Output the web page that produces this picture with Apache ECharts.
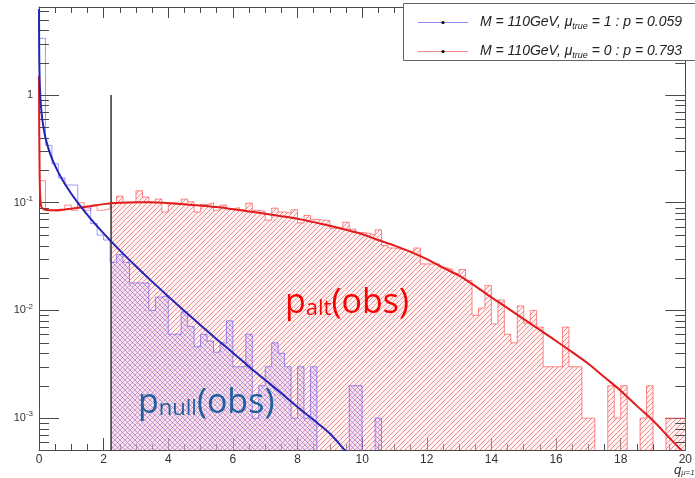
<!DOCTYPE html>
<html><head><meta charset="utf-8">
<script src="https://cdn.jsdelivr.net/npm/echarts@6/dist/echarts.min.js"></script>
<style>html,body{margin:0;padding:0;background:#fff}#c{width:695px;height:478px}</style>
</head><body><div id="c"></div>
<script>
// ---- data ----
const binLow = 0, binWidth = 0.2;       // 100 bins from 0 to 20
const redHist = [
 0.16,0.085,0.083,0.086,0.095,0.085,0.1,0.085,0.095,0.085,
 0.088,0.1,0.115,0.1,0.1,0.129,0.113,0.1,0.108,0.082,
 0.1,0.098,0.108,0.102,0.082,0.096,0.1,0.085,0.095,0.088,
 0.09,0.086,0.099,0.085,0.083,0.069,0.089,0.082,0.08,0.086,
 0.065,0.076,0.07,0.069,0.068,0.058,0.057,0.066,0.057,0.053,
 0.052,0.05,0.056,0.04,0.038,0.037,0.036,0.035,0.038,0.027,
 0.027,0.027,0.025,0.024,0.022,0.024,0.019,0.009,0.0105,0.017,
 0.0075,0.0125,0.006,0.005,0.011,0.0076,0.01,0.007,0.003,0.003,
 0.003,0.007,0.003,0.003,0.001,0.001,0,0,0.002,0.001,
 0.002,0,0,0.001,0.002,0,0,0.001,0.001,0.001
];
const blueHist = [
 3.36,0.34,0.23,0.17,0.146,0.146,0.09,0.089,0.064,0.05,
 0.045,0.028,0.033,0.028,0.018,0.018,0.018,0.01,0.0133,0.0137,
 0.006,0.006,0.0097,0.0071,0.0046,0.006,0.0052,0.0041,0.005,0.008,
 0.003,0.003,0.006,0.001,0.002,0.003,0.005,0.004,0.003,0.001,
 0.003,0.001,0.003,0,0,0,0,0,0.002,0.002,
 0,0,0.001,0,0,0,0,0,0,0,
 0,0,0,0,0,0,0,0,0,0,
 0,0,0,0,0,0,0,0,0,0,
 0,0,0,0,0,0,0,0,0,0,
 0,0,0,0,0,0,0,0,0,0
];
const blueCurveQ = [0.001,0.003,0.01,0.03,0.06,0.1,0.15,0.2,0.3,0.4,0.5,0.7,1.0,1.3,1.6,2.0,2.5,3.0,3.5,4.0,4.5,5.0,5.5,6.0,6.5,7.0,7.5,8.0,8.5,9.0,9.5,9.7];
const blueCurveV = [6.3,3.64,1.99,1.13,0.79,0.60,0.478,0.40,0.313,0.258,0.22,0.168,0.121,0.0913,0.0708,0.0519,0.0361,0.0257,0.0185,0.0135,0.0099,0.0073,0.0054,0.00405,0.003,0.00226,0.0017,0.00127,0.00096,0.00072,0.00049,0.00042];
const redCurveQ = [0,0.005,0.015,0.03,0.06,0.1,0.2,0.4,0.7,1.0,1.5,2.0,2.5,3.0,3.5,4.0,4.5,5.0,5.5,6.0,6.5,7.0,7.5,8.0,8.5,9.0,9.5,10.0,10.5,11.0,11.5,12.0,12.5,13.0,13.5,14.0,14.5,15.0,15.5,16.0,16.5,17.0,17.5,18.0,18.5,19.0,19.5,20.0];
const redCurveV = [1.5,0.6,0.25,0.13,0.095,0.089,0.086,0.085,0.086,0.088,0.092,0.097,0.1,0.101,0.101,0.099,0.097,0.094,0.091,0.087,0.083,0.079,0.075,0.071,0.066,0.061,0.056,0.051,0.045,0.040,0.035,0.030,0.025,0.021,0.0168,0.0132,0.0105,0.0083,0.0066,0.0052,0.0041,0.0032,0.0024,0.0018,0.0013,0.00095,0.00066,0.00046];
const qObs = 2.23;
const qObsTop = 1;
const legendLabels = [
  ['M = 110GeV, \u03bc', 'true', ' = 1 : p = 0.059'],
  ['M = 110GeV, \u03bc', 'true', ' = 0 : p = 0.793']
];
const logMinorTicks = [6e-4,7e-4,8e-4,9e-4,2e-3,3e-3,4e-3,5e-3,6e-3,7e-3,8e-3,9e-3,
  0.02,0.03,0.04,0.05,0.06,0.07,0.08,0.09,0.2,0.3,0.4,0.5,0.6,0.7,0.8,0.9,2,3,4,5,6];

// ---- helpers ----
const FLOOR = 1e-6;
function stepData(vals, startQ) {
  const out = [];
  for (let i = 0; i < vals.length; i++) {
    const lo = +(binLow + i * binWidth).toFixed(4), hi = +(lo + binWidth).toFixed(4);
    if (hi <= startQ) continue;
    out.push([Math.max(lo, startQ), vals[i] > 0 ? vals[i] : FLOOR]);
  }
  const last = vals[vals.length - 1];
  out.push([+(binLow + vals.length * binWidth).toFixed(4), last > 0 ? last : FLOOR]);
  return out;
}
function hatch(color, dir, s, bg) {
  const c = document.createElement('canvas');
  c.width = s; c.height = s;
  const g = c.getContext('2d');
  if (bg) { g.fillStyle = bg; g.fillRect(0, 0, s, s); }
  g.strokeStyle = color; g.lineWidth = 1;
  g.beginPath();
  if (dir > 0) {
    g.moveTo(0, s); g.lineTo(s, 0);
    g.moveTo(-1, 1); g.lineTo(1, -1);
    g.moveTo(s - 1, s + 1); g.lineTo(s + 1, s - 1);
  } else {
    g.moveTo(0, 0); g.lineTo(s, s);
    g.moveTo(-1, s - 1); g.lineTo(1, s + 1);
    g.moveTo(s - 1, -1); g.lineTo(s + 1, 1);
  }
  g.stroke();
  return c;
}
const redTile = hatch('rgba(235,95,95,0.7)', 1, 5, 'rgba(255,225,225,0.4)');
const blueTile = hatch('rgba(140,95,215,0.6)', -1, 5, 'rgba(215,190,240,0.3)');

const chart = echarts.init(document.getElementById('c'), null, {renderer: 'canvas'});
const axisCol = '#4a4a4a';
const baseX = {
  type: 'value', min: 0, max: 20, interval: 2,
  axisLine: {onZero: false, lineStyle: {color: axisCol, width: 1}},
  splitLine: {show: false}
};
const baseY = {
  type: 'log', logBase: 10, min: 5.06e-4, max: 6.56,
  axisLine: {onZero: false, lineStyle: {color: axisCol, width: 1}},
  axisTick: {inside: true, length: 20, lineStyle: {color: axisCol}},
  minorTick: {show: false},
  splitLine: {show: false}
};
const option = {
  animation: false,
  backgroundColor: '#fff',
  grid: {left: 39, right: 0, top: 7, bottom: 28, containLabel: false},
  xAxis: [
    Object.assign({}, baseX, {
      position: 'bottom',
      axisTick: {inside: true, length: 12, lineStyle: {color: axisCol}},
      minorTick: {show: true, splitNumber: 4, length: 6, lineStyle: {color: axisCol}},
      axisLabel: {margin: 4, fontSize: 12, color: '#333', fontFamily: 'Liberation Sans'}
    }),
    Object.assign({}, baseX, {
      position: 'top',
      axisTick: {inside: true, length: 11, lineStyle: {color: axisCol}},
      minorTick: {show: true, splitNumber: 4, length: 6, lineStyle: {color: axisCol}},
      axisLabel: {show: false}
    })
  ],
  yAxis: [
    Object.assign({}, baseY, {
      position: 'left',
      axisLabel: {
        margin: 6, showMinLabel: false, showMaxLabel: false,
        formatter: function (v) {
          const e = Math.round(Math.log10(v));
          if (e === 0) return '{b|1}';
          return '{b|10}{e|' + e + '}';
        },
        rich: {
          b: {fontSize: 11, lineHeight: 16, color: '#333', fontFamily: 'Liberation Sans'},
          e: {fontSize: 8, lineHeight: 4, verticalAlign: 'top', color: '#333', fontFamily: 'Liberation Sans'}
        }
      }
    }),
    Object.assign({}, baseY, {position: 'right', axisLabel: {show: false}})
  ],
  series: [
    {
      name: 'altFill', type: 'line', step: 'end', symbol: 'none', z: 1,
      data: stepData(redHist, qObs),
      lineStyle: {width: 0},
      areaStyle: {color: {image: redTile, repeat: 'repeat'}, origin: 'start', opacity: 1}
    },
    {
      name: 'nullFill', type: 'line', step: 'end', symbol: 'none', z: 2,
      data: stepData(blueHist, qObs),
      lineStyle: {width: 0},
      areaStyle: {color: {image: blueTile, repeat: 'repeat'}, origin: 'start', opacity: 1}
    },
    {
      name: 'altHist', type: 'line', step: 'end', symbol: 'none', z: 3,
      data: stepData(redHist, -1),
      lineStyle: {color: 'rgba(255,40,40,0.55)', width: 1}
    },
    {
      name: 'nullHist', type: 'line', step: 'end', symbol: 'none', z: 4,
      data: stepData(blueHist, -1),
      lineStyle: {color: 'rgba(60,50,255,0.5)', width: 1}
    },
    {
      name: 'minorTicks', type: 'custom', z: 5, silent: true,
      data: logMinorTicks.map(v => [0, v]),
      encode: {x: 0, y: 1},
      renderItem: function (params, api) {
        const y = Math.round(api.coord([0, api.value(1)])[1]) + 0.5;
        const cs = params.coordSys;
        const st = {stroke: axisCol, lineWidth: 1};
        return {type: 'group', children: [
          {type: 'line', shape: {x1: cs.x, y1: y, x2: cs.x + 10, y2: y}, style: st},
          {type: 'line', shape: {x1: cs.x + cs.width, y1: y, x2: cs.x + cs.width - 10, y2: y}, style: st}
        ]};
      }
    },
    {
      name: 'qObs', type: 'line', symbol: 'none', z: 6,
      data: [[qObs, qObsTop], [qObs, FLOOR]],
      lineStyle: {color: '#333', width: 1.5}
    },
    {
      name: 'altCurve', type: 'line', symbol: 'none', z: 7, smooth: 0.3,
      data: redCurveQ.map((q, i) => [q, redCurveV[i]]),
      lineStyle: {color: '#e01c1c', width: 2}
    },
    {
      name: 'nullCurve', type: 'line', symbol: 'none', z: 8, smooth: 0.3,
      data: blueCurveQ.map((q, i) => [q, blueCurveV[i]]),
      lineStyle: {color: '#2424b8', width: 2}
    }
  ],
  graphic: [
    {type: 'rect', z: 100, shape: {x: 403.5, y: 3.5, width: 300, height: 57}, style: {fill: '#fff', stroke: '#666', lineWidth: 1}},
    {type: 'line', z: 101, shape: {x1: 418, y1: 22.5, x2: 468, y2: 22.5}, style: {stroke: '#8c8cf0', lineWidth: 1}},
    {type: 'circle', z: 102, shape: {cx: 443, cy: 22.5, r: 1.6}, style: {fill: '#000'}},
    {type: 'line', z: 101, shape: {x1: 418, y1: 51.5, x2: 468, y2: 51.5}, style: {stroke: '#f08c8c', lineWidth: 1}},
    {type: 'circle', z: 102, shape: {cx: 443, cy: 51.5, r: 1.6}, style: {fill: '#000'}}
  ].concat(legendLabels.map((l, k) => ({
    type: 'text', z: 101, x: 480, y: k === 0 ? 22.5 : 51.5,
    style: {
      text: '{a|' + l[0] + '}{s|' + l[1] + '}{a|' + l[2] + '}',
      verticalAlign: 'middle',
      rich: {
        a: {fontSize: 14, fontStyle: 'italic', fontFamily: 'Liberation Sans', fill: '#222', lineHeight: 16},
        s: {fontSize: 9, fontStyle: 'italic', fontFamily: 'Liberation Sans', fill: '#222', lineHeight: 8, verticalAlign: 'bottom'}
      }
    }
  }))).concat([
    {type: 'text', z: 110, x: 285, y: 299, style: {
      text: '{p|p}{s|alt}{p|(obs)}', verticalAlign: 'middle',
      rich: {
        p: {fontSize: 34, fontFamily: 'Open Sans', fill: '#ff0000', lineHeight: 42, verticalAlign: 'bottom'},
        s: {fontSize: 22, fontFamily: 'Open Sans', fill: '#ff0000', lineHeight: 20, verticalAlign: 'bottom'}
      }
    }},
    {type: 'text', z: 110, x: 138, y: 399, style: {
      text: '{p|p}{s|null}{p|(obs)}', verticalAlign: 'middle',
      rich: {
        p: {fontSize: 34, fontFamily: 'Open Sans', fill: '#215f9f', lineHeight: 42, verticalAlign: 'bottom'},
        s: {fontSize: 22, fontFamily: 'Open Sans', fill: '#215f9f', lineHeight: 20, verticalAlign: 'bottom'}
      }
    }},
    {type: 'text', z: 110, x: 674, y: 470, style: {
      text: '{q|q}{s|\u03bc=1}', verticalAlign: 'middle',
      rich: {
        q: {fontSize: 13, fontStyle: 'italic', fontFamily: 'Liberation Sans', fill: '#333', lineHeight: 14},
        s: {fontSize: 8, fontStyle: 'italic', fontFamily: 'Liberation Sans', fill: '#333', lineHeight: 8, verticalAlign: 'bottom'}
      }
    }}
  ])
};
chart.setOption(option);
</script>
</body></html>
